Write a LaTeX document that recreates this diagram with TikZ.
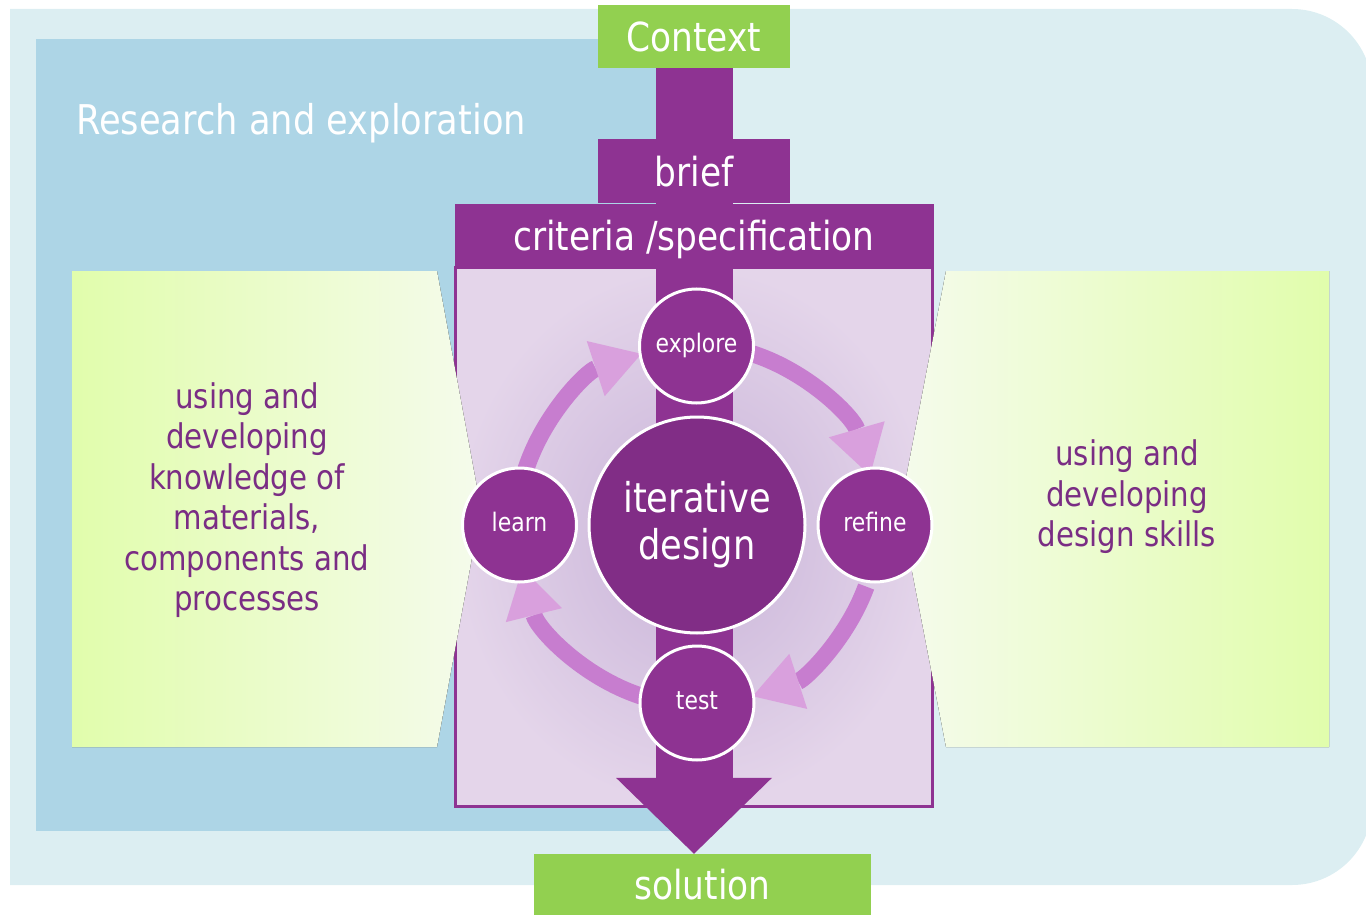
\documentclass[tikz,border=0pt]{standalone}
\usepackage{fontspec}
\setmainfont{DejaVu Sans}[FakeStretch=0.86]
\usetikzlibrary{arrows.meta, positioning}
\definecolor{bgpale}{HTML}{DCEEF2}
\definecolor{bgblue}{HTML}{ADD5E6}
\definecolor{leaf}{HTML}{92D050}
\definecolor{plum}{HTML}{8E3392}
\definecolor{plumdark}{HTML}{812D86}
\definecolor{ringc}{HTML}{C77DCF}
\definecolor{tipc}{HTML}{D9A0DD}
\definecolor{sqin}{HTML}{C8B3D8}
\definecolor{sqout}{HTML}{E4D5EA}
\definecolor{limea}{HTML}{E1FDAC}
\definecolor{limeb}{HTML}{F5FBEC}
\definecolor{ink}{HTML}{7A2D84}
\tikzset{
  stage/.style={fill=#1, text=white, inner sep=0pt, text height=29.6pt, text depth=0pt,
    font=\fontsize{40}{44}\selectfont},
  phase/.style={circle, fill=plum, draw=white, line width=3pt, minimum size=114pt, inner sep=0pt,
    text=white, text height=19.4pt, text depth=6.1pt, font=\fontsize{25.5}{28}\selectfont},
  panel/.style={align=center, text=ink, font=\fontsize{34}{40.5}\selectfont},
  loopring/.style={draw=ringc, line width=17pt,
    -{Triangle[width=58pt, length=48pt, line width=0pt, color=tipc, fill=tipc]}}
}

\begin{document}
\begin{tikzpicture}[x=1pt, y=-1pt]
			\useasboundingbox (0,0) rectangle (1366,915);
			% backgrounds
			\fill[bgpale] (10,9) -- (1292,9) arc[start angle=90, end angle=0, radius=80pt]
				-- (1372,805) arc[start angle=0, end angle=-90, radius=80pt] -- (10,885) -- cycle;
			\fill[bgblue] (36,39) rectangle (694,831);
			\node[anchor=base west, inner sep=0pt, text=white, font=\fontsize{41}{45}\selectfont] (title) at (76,135) {Research and exploration};

			\node[draw=plum, line width=3pt, minimum width=477pt, minimum height=539pt,
				inner color=sqin, outer color=sqout] (frame) at (693.5,536.5) {};

			% side panels
			\fill[left color=limea, right color=limeb] (72,271) -- (437,271) -- (481,509) -- (437,747) -- (72,747) -- cycle;
			\fill[left color=limeb, right color=limea] (1329,271) -- (946,271) -- (900,509) -- (946,747) -- (1329,747) -- cycle;
			\node[panel] (knowledge) at (247,500) {using and\\developing\\knowledge of\\materials,\\components and\\processes};
			\node[panel] (skills) at (1127,497) {using and\\developing\\design skills};

			% main flow
			\node[stage=leaf, minimum width=192pt, minimum height=63pt] (context) at (694,36.5) {Context};
			\node[stage=leaf, minimum width=337pt, minimum height=61pt] (solution) at (702.5,884.5) {solution};
			\draw[plum, line width=77pt, -{Triangle[width=156pt, length=76pt, line width=0pt]}]
				(context.south) -- (context.south |- solution.north);
			\node[stage=plum, minimum width=192pt, minimum height=64pt, below=71pt of context] (brief) {brief};
			\node[stage=plum, minimum width=479pt, minimum height=64pt, below=0pt of brief] (criteria) {criteria /specification};

			% iteration cycle
			\coordinate (hub) at (697,525);
			\draw[loopring] (hub) ++(72:180pt) arc[start angle=72, end angle=16, radius=180pt];
			\draw[loopring] (hub) ++(-20:180pt) arc[start angle=-20, end angle=-72, radius=180pt];
			\draw[loopring] (hub) ++(-108:180pt) arc[start angle=-108, end angle=-166, radius=180pt];
			\draw[loopring] (hub) ++(162:180pt) arc[start angle=162, end angle=108, radius=180pt];

			\node[phase, fill=plumdark, minimum size=216pt, align=center, text height=, text depth=,
				font=\fontsize{41}{47}\selectfont] (core) at (hub) {iterative\\design};
			\node[phase] (explore) at (696.5,346) {explore};
			\node[phase] (refine) at (875,525) {refine};
			\node[phase] (test) at (697,703) {test};
			\node[phase] (learn) at (519.5,525) {learn};
		\end{tikzpicture}
\end{document}
